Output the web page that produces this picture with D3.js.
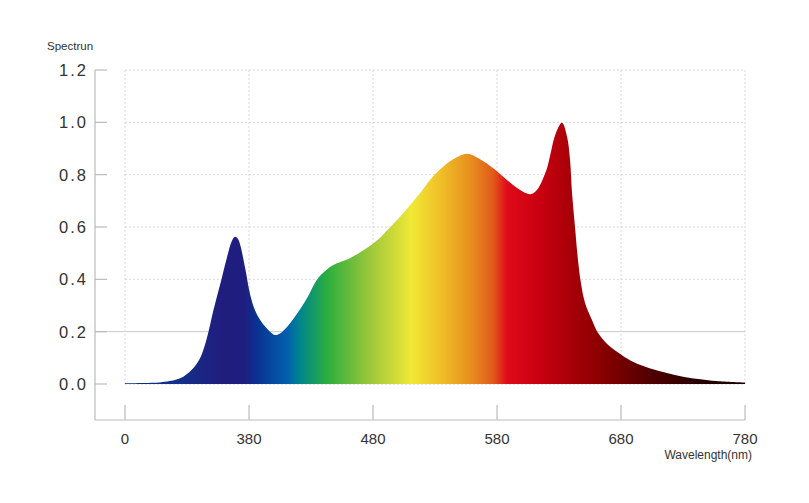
<!DOCTYPE html>
<html><head><meta charset="utf-8">
<script src="https://cdn.jsdelivr.net/npm/d3@7"></script>
<style>
body{margin:0;background:#fff;}
text{font-family:"Liberation Sans",Arial,sans-serif;fill:#333;}
</style></head>
<body><svg id="c" width="809" height="503"></svg>
<script>
// data
const wavelengths = [280,295,308,316,327,335,340.5,346,351,356.6,362,366,368.7,371,373,377,381,385,389,393,397,401,405,411,419,427,435,441,448,461,475,486,492,502,518,526,534,545,556,566,577,588,599,607,612,620,622.7,626.8,632.4,636.5,638.9,640.5,642.9,645.3,647.7,651,656.6,661.5,669.5,680.8,690,703,717,730,744,757,780];
const intensity = [0.003,0.004,0.006,0.011,0.028,0.06,0.098,0.175,0.276,0.378,0.48,0.545,0.563,0.555,0.53,0.44,0.34,0.28,0.245,0.22,0.2,0.187,0.193,0.22,0.27,0.33,0.40,0.43,0.455,0.48,0.52,0.56,0.59,0.64,0.73,0.78,0.82,0.86,0.88,0.86,0.825,0.78,0.74,0.725,0.74,0.82,0.87,0.95,0.998,0.945,0.856,0.73,0.6,0.474,0.386,0.31,0.245,0.195,0.15,0.11,0.084,0.06,0.042,0.028,0.018,0.011,0.005];
const xTickValues = [280,380,480,580,680,780];
const xTickLabels = ["0","380","480","580","680","780"];
const yTickValues = [0,0.2,0.4,0.6,0.8,1.0,1.2];
const yTickLabels = ["0.0","0.2","0.4","0.6","0.8","1.0","1.2"];
const gradStopsNm = [280,324,357,377,385,411,421,443,478,511,534,558,577,588,615,639,671,703,744,780];
const gradStopsColor = ["#0b2b82","#13308a","#201d7e","#1e1e80","#0b3090","#0060ae","#00858f","#2aae3e","#9ec83a","#f0e835","#f0c028","#e8901f","#e05a1a","#e00a1a","#c80010","#a80008","#800000","#520000","#250000","#1a0000"];

const svg = d3.select("#c");
const x = d3.scaleLinear().domain([280,780]).range([125,745]);
const y = d3.scaleLinear().domain([0,1.2]).range([384,70]);
const axisX = 95, axisY = 420;

// gradient
const defs = svg.append("defs");
const grad = defs.append("linearGradient").attr("id","spec")
  .attr("gradientUnits","userSpaceOnUse")
  .attr("x1",x(280)).attr("x2",x(780)).attr("y1",0).attr("y2",0);
gradStopsNm.forEach((n,i)=>{
  grad.append("stop").attr("offset",(n-280)/500).attr("stop-color",gradStopsColor[i]);
});

// gridlines
const grid = svg.append("g");
yTickValues.forEach(v=>{
  if (v===0.2) {
    grid.append("line").attr("x1",axisX).attr("x2",x(780)).attr("y1",y(v)).attr("y2",y(v))
      .attr("stroke","#c8c8c8").attr("stroke-width",1);
  } else {
    grid.append("line").attr("x1",x(280)).attr("x2",x(780)).attr("y1",y(v)).attr("y2",y(v))
      .attr("stroke","#d8d8d8").attr("stroke-width",1).attr("stroke-dasharray","2,2");
  }
});
xTickValues.forEach(v=>{
  grid.append("line").attr("x1",x(v)).attr("x2",x(v)).attr("y1",y(1.2)).attr("y2",y(0)+2)
    .attr("stroke","#d8d8d8").attr("stroke-width",1).attr("stroke-dasharray","2,2");
});

// area
const data = wavelengths.map((w,i)=>({w, v:intensity[i]}));
const area = d3.area().x(d=>x(d.w)).y0(y(0)).y1(d=>y(d.v)).curve(d3.curveCatmullRom.alpha(0.5));
svg.append("path").datum(data).attr("d",area).attr("fill","url(#spec)");

// axes
const ax = svg.append("g").attr("stroke","#bbb").attr("stroke-width",1.2);
ax.append("line").attr("x1",axisX).attr("x2",axisX).attr("y1",y(1.2)).attr("y2",axisY);
ax.append("line").attr("x1",axisX).attr("x2",x(780)).attr("y1",axisY).attr("y2",axisY);
yTickValues.forEach(v=>{
  ax.append("line").attr("x1",axisX).attr("x2",axisX+12).attr("y1",y(v)).attr("y2",y(v));
});
xTickValues.forEach(v=>{
  ax.append("line").attr("x1",x(v)).attr("x2",x(v)).attr("y1",axisY-15).attr("y2",axisY);
});

// labels
yTickValues.forEach((v,i)=>{
  svg.append("text").attr("x",88).attr("y",y(v)+6).attr("text-anchor","end")
    .attr("font-size",16.5).style("letter-spacing","2px").text(yTickLabels[i]);
});
xTickValues.forEach((v,i)=>{
  svg.append("text").attr("x",x(v)).attr("y",444).attr("text-anchor","middle")
    .attr("font-size",15).text(xTickLabels[i]);
});
svg.append("text").attr("x",47).attr("y",50).attr("font-size",11.5).text("Spectrun");
svg.append("text").attr("x",752).attr("y",459).attr("text-anchor","end").attr("font-size",12).text("Wavelength(nm)");
</script></body></html>
